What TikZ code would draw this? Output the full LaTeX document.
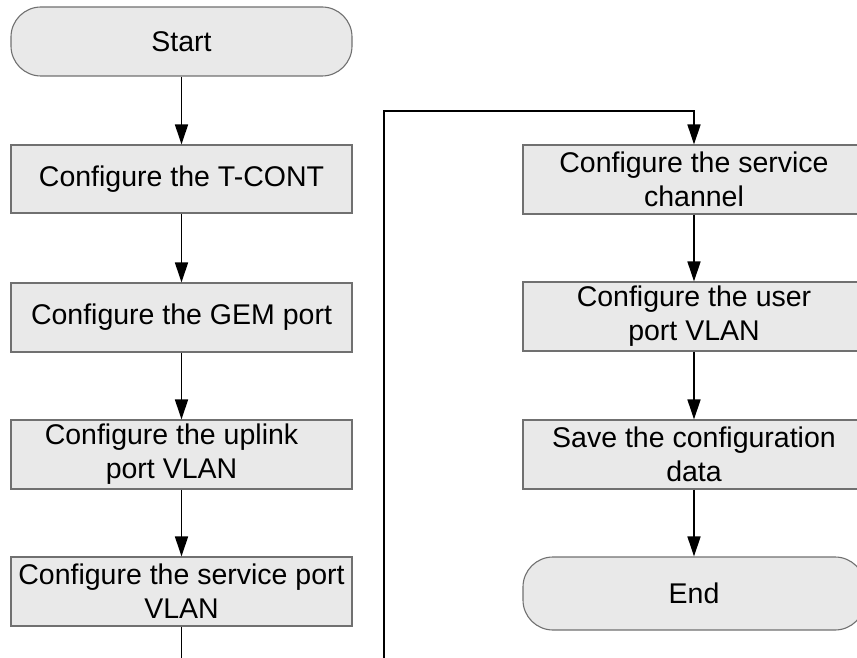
\documentclass[tikz,border=0pt]{standalone}
\usepackage{fontspec}
\setmainfont{Liberation Sans}
\usetikzlibrary{arrows.meta}
\definecolor{boxfill}{RGB}{233,233,233}
\definecolor{boxline}{RGB}{112,112,112}
\tikzset{
  procbox/.style={draw=boxline, line width=1.1pt, fill=boxfill, minimum width=341pt,
    minimum height=69pt, inner sep=0pt, align=center,
    font=\fontsize{28.5}{34}\selectfont},
  termbox/.style={procbox, rounded corners=30pt},
  flow/.style={draw=black, line width=1.5pt, -{Triangle[length=20pt,width=13pt]}},
  plainline/.style={draw=black, line width=1.5pt}
}
\begin{document}
\begin{tikzpicture}[x=1pt,y=-1pt]
\useasboundingbox (0,0) rectangle (857,658);
\clip (0,0) rectangle (857,658);
\node[termbox] (start) at (181.5,41.5) {Start};
\node[procbox, minimum height=68pt] (t1) at (181.5,179) {Configure the T-CONT};
\node[procbox] (t2) at (181.5,317.5) {Configure the GEM port};
\node[procbox] (t3) at (181.5,454.5) {Configure the uplink\hspace*{20pt}\\port VLAN\hspace*{20pt}};
\node[procbox] (t4) at (181.5,591.5) {Configure the service port\\VLAN};
\node[procbox, minimum width=342pt] (r1) at (694,179.5) {Configure the service\\channel};
\node[procbox, minimum width=342pt] (r2) at (694,316.5) {Configure the user\\port VLAN};
\node[procbox, minimum width=342pt] (r3) at (694,454.5) {Save the configuration\\data};
\node[termbox, minimum width=342pt, minimum height=73pt] (end) at (694,593.5) {End};
\coordinate (lb) at (181.5,662);
\coordinate (rb) at (384,662);
\coordinate (rt) at (384,111);
\draw[flow] (start) -- (t1);
\draw[flow] (t1) -- (t2);
\draw[flow] (t2) -- (t3);
\draw[flow] (t3) -- (t4);
\draw[plainline] (t4) -- (lb);
\draw[flow] (rb) -- (rt) -| (r1);
\draw[flow] (r1) -- (r2);
\draw[flow] (r2) -- (r3);
\draw[flow] (r3) -- (end);
\end{tikzpicture}
\end{document}
